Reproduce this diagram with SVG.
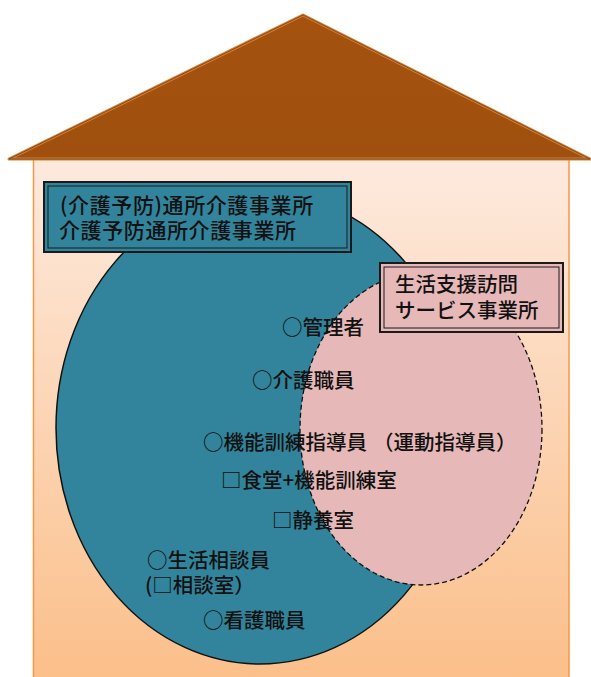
<svg xmlns="http://www.w3.org/2000/svg" width="591" height="677" viewBox="0 0 591 677">
<defs>
<linearGradient id="wall" x1="0" y1="0" x2="0" y2="1">
<stop offset="0" stop-color="#fdeade"/>
<stop offset="1" stop-color="#fbbf8a"/>
</linearGradient>
<linearGradient id="roofg" x1="0" y1="0" x2="0" y2="1">
<stop offset="0" stop-color="#a4520e"/>
<stop offset="1" stop-color="#a0500e"/>
</linearGradient>
<style>
.t{font-family:"Noto Sans CJK JP","Noto Sans CJK SC",sans-serif;font-size:20.5px;font-weight:500;fill:#111;}
.t21{font-size:21px;letter-spacing:0.6px;}
.bo{stroke:#1a1a1a;stroke-width:2;}
.bi{fill:none;stroke:#1a1a1a;stroke-width:1;}
.teal{fill:#31849b;}
.pink{fill:#e6b8b7;}
</style>
</defs>
<g id="house">
<rect x="33.5" y="159" width="535.5" height="520" fill="url(#wall)" stroke="#f79646" stroke-width="1.5"/>
<polygon points="9,159 303,15 590,159" fill="url(#roofg)" stroke="#e07a2a" stroke-width="3" stroke-linejoin="round"/>
<polygon points="9,159 303,15 590,159" fill="none" stroke="#6b5030" stroke-width="1" stroke-linejoin="round"/>
</g>
<g id="connectors"></g>
<g id="circle-tsusho">
<ellipse cx="260" cy="428" rx="204" ry="236" class="teal" stroke="#111" stroke-width="1.5"/>
</g>
<g id="circle-homon">
<ellipse cx="421" cy="429" rx="121" ry="156" class="pink" stroke="#111" stroke-width="1.3" stroke-dasharray="5,3"/>
</g>
<g id="box-tsusho">
<rect x="44" y="182" width="307" height="70" class="teal bo"/>
<rect x="48" y="186" width="299" height="62" class="bi"/>
<text class="t t21" x="60" y="213">(介護予防)通所介護事業所</text>
<text class="t t21" x="59" y="238">介護予防通所介護事業所</text>
</g>
<g id="box-homon">
<rect x="380" y="263" width="183" height="69" class="pink bo"/>
<rect x="384" y="267" width="175" height="61" class="bi"/>
<text class="t" x="395" y="292">生活支援訪問</text>
<text class="t" x="395" y="318">サービス事業所</text>
</g>
<g id="labels">
<text class="t" x="282" y="335">○管理者</text>
<text class="t" x="252" y="388">○介護職員</text>
<text class="t" x="203" y="450">○機能訓練指導員<tspan dx="6">（運動指導員）</tspan></text>
<text class="t" x="221" y="488">□食堂+機能訓練室</text>
<text class="t" x="272" y="528">□静養室</text>
<text class="t" x="147" y="568">○生活相談員</text>
<text class="t" x="145" y="593">(□相談室）</text>
<text class="t" x="203" y="628">○看護職員</text>
</g>
</svg>
